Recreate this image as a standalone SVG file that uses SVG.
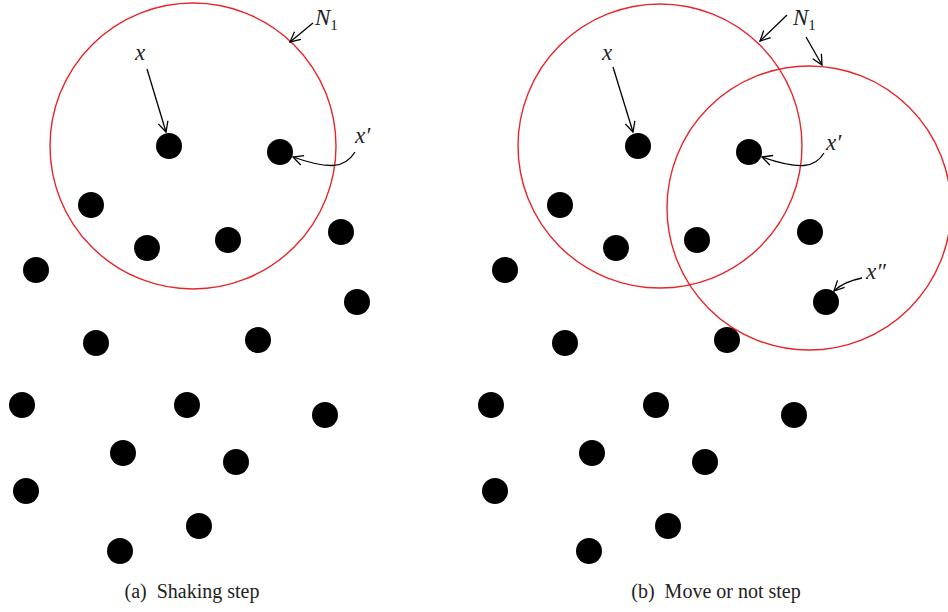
<svg xmlns="http://www.w3.org/2000/svg" width="948" height="612" viewBox="0 0 948 612">
<defs>
<marker id="ah" viewBox="0 0 12 12" refX="11" refY="6" markerWidth="12" markerHeight="12" markerUnits="userSpaceOnUse" orient="auto">
<path d="M1,1 L11,6 L1,11" fill="none" stroke="#000" stroke-width="1.3"/>
</marker>
<g id="dots">
<circle cx="169" cy="146" r="13"/>
<circle cx="280" cy="152" r="13"/>
<circle cx="91" cy="205" r="13"/>
<circle cx="147" cy="248" r="13"/>
<circle cx="228" cy="240" r="13"/>
<circle cx="341" cy="232" r="13"/>
<circle cx="36" cy="270" r="13"/>
<circle cx="357" cy="302" r="13"/>
<circle cx="96" cy="343" r="13"/>
<circle cx="258" cy="340" r="13"/>
<circle cx="22" cy="405" r="13"/>
<circle cx="187" cy="405" r="13"/>
<circle cx="325" cy="415" r="13"/>
<circle cx="123" cy="453" r="13"/>
<circle cx="236" cy="462" r="13"/>
<circle cx="26" cy="491" r="13"/>
<circle cx="199" cy="526" r="13"/>
<circle cx="120" cy="551" r="13"/>
</g>
</defs>
<style>
.nb{fill:none;stroke:#e8252a;stroke-width:1.4}
.ar{fill:none;stroke:#000;stroke-width:1.3;marker-end:url(#ah)}
.lb{font-family:"Liberation Serif",serif;font-style:italic;font-size:23px;fill:#222}
.sub{font-family:"Liberation Serif",serif;font-style:normal;font-size:15px;fill:#222}
.cap{font-family:"Liberation Serif",serif;font-size:20px;fill:#222;text-anchor:middle}
</style>
<rect width="948" height="612" fill="#fff"/>
<g id="panel-a">
<g id="a-dots" fill="#000"><use href="#dots"/></g>
<g id="a-N1"><circle class="nb" cx="193" cy="146" r="143"/></g>
<g id="a-labels">
<text class="lb" x="135" y="60">x</text>
<text class="lb" x="315" y="25">N<tspan class="sub" dy="5">1</tspan></text>
<text class="lb" x="355" y="143">x′</text>
</g>
<g id="a-connectors">
<path class="ar" d="M147,69 L166,132"/>
<path class="ar" d="M313,23 L290,42"/>
<path class="ar" d="M355,152 C345,168 330,170 293,157"/>
</g>
<text class="cap" x="192" y="598">(a)&#160; Shaking step</text>
</g>
<g id="panel-b">
<g id="b-dots" fill="#000" transform="translate(469,0)"><use href="#dots"/></g>
<g id="b-N1"><circle class="nb" cx="660" cy="146" r="142"/></g>
<g id="b-N1b"><circle class="nb" cx="809" cy="208" r="142"/></g>
<g id="b-labels">
<text class="lb" x="602" y="60">x</text>
<text class="lb" x="793" y="25">N<tspan class="sub" dy="5">1</tspan></text>
<text class="lb" x="826" y="150">x′</text>
<text class="lb" x="866" y="279">x″</text>
</g>
<g id="b-connectors">
<path class="ar" d="M613,67 L633,132"/>
<path class="ar" d="M787,15 L760,41"/>
<path class="ar" d="M806,37 L822,65"/>
<path class="ar" d="M824,153 C815,168 800,170 762,157"/>
<path class="ar" d="M862,278 C852,280 842,283 834,291"/>
</g>
<text class="cap" x="716" y="598">(b)&#160; Move or not step</text>
</g>
</svg>
